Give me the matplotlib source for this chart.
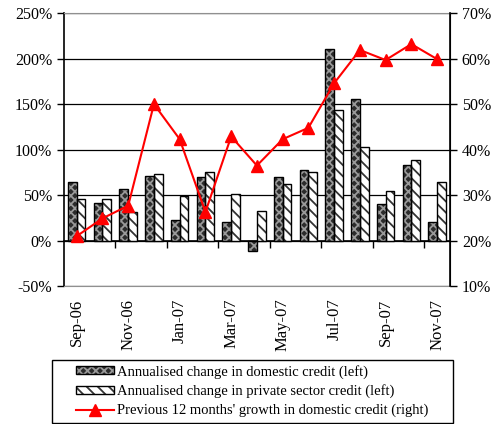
import numpy as np
import matplotlib
matplotlib.use('Agg')
import matplotlib.pyplot as plt
from matplotlib.patches import Patch, Rectangle
from matplotlib.lines import Line2D
from matplotlib.ticker import FuncFormatter

plt.rcParams['font.family'] = ['Liberation Serif', 'DejaVu Serif']
plt.rcParams['hatch.linewidth'] = 1.3

months = ['Sep-06', 'Oct-06', 'Nov-06', 'Dec-06', 'Jan-07', 'Feb-07', 'Mar-07', 'Apr-07',
          'May-07', 'Jun-07', 'Jul-07', 'Aug-07', 'Sep-07', 'Oct-07', 'Nov-07']
domestic = [65, 41, 57, 71, 23, 70, 21, -11, 70, 78, 211, 156, 40, 83, 21]
private = [46, 46, 31, 73, 49, 76, 51, 33, 62, 75, 144, 103, 55, 89, 64]
growth12 = [21, 24.9, 27.7, 50, 42.3, 26.3, 42.9, 36.5, 42.3, 44.8, 54.6, 61.9, 59.7, 63.2, 59.9]

lab_dom = 'Annualised change in domestic credit (left)'
lab_priv = 'Annualised change in private sector credit (left)'
lab_line = "Previous 12 months' growth in domestic credit (right)"

x = np.arange(len(months))
w = 0.34

fig = plt.figure(figsize=(4.95, 4.24), dpi=100)
ax = fig.add_axes([0.129, 0.325, 0.78, 0.644])

# bars: hatched fill first, black outline on top
ax.bar(x - w/2, domestic, w, facecolor='#2b2b2b', edgecolor='#9a9a9a', hatch='xxxx', linewidth=0, zorder=2)
ax.bar(x - w/2, domestic, w, fill=False, edgecolor='black', linewidth=1, zorder=3)
ax.bar(x + w/2, private, w, facecolor='white', edgecolor='#333333', hatch='\\\\\\', linewidth=0, zorder=2)
ax.bar(x + w/2, private, w, fill=False, edgecolor='black', linewidth=1, zorder=3)

ax.set_xlim(-0.5, len(months) - 0.5)
ax.set_ylim(-50, 250)
ax.set_yticks(np.arange(-50, 251, 50))
ax.yaxis.set_major_formatter(FuncFormatter(lambda v, p: '%d%%' % v))
ax.yaxis.grid(True, color='black', linewidth=0.9)
ax.set_axisbelow(True)
ax.tick_params(axis='y', direction='out', length=5, width=1, labelsize=11.5, color='black')

ax.set_xticks(x[::2])
ax.set_xticklabels(months[::2], rotation=90)
ax.tick_params(axis='x', length=0, labelsize=12, pad=9)

for s in ['top', 'bottom']:
    ax.spines[s].set_color('#909090')
ax.spines['left'].set_linewidth(1.2)

# category axis drawn at 0%
sec = ax.secondary_xaxis(50 / 300)
sec.set_xticks(x[1::2] + 0.5)
sec.set_xticklabels([])
sec.tick_params(direction='out', length=5, width=1)
sec.spines['bottom'].set_linewidth(1.2)

ax2 = ax.twinx()
ax2.plot(x, growth12, color='red', marker='^', markersize=8, linewidth=1.5, zorder=5)
ax2.set_ylim(10, 70)
ax2.set_yticks(np.arange(10, 71, 10))
ax2.yaxis.set_major_formatter(FuncFormatter(lambda v, p: '%d%%' % v))
ax2.tick_params(axis='y', direction='out', length=5, width=1, labelsize=11.5)
ax2.spines['right'].set_linewidth(1.2)
for s in ['top', 'bottom', 'left']:
    ax2.spines[s].set_visible(False)

h_dom = (Patch(facecolor='#2b2b2b', edgecolor='#9a9a9a', hatch='xxxx', linewidth=0),
         Patch(fill=False, edgecolor='black', linewidth=1))
h_priv = (Patch(facecolor='white', edgecolor='#333333', hatch='\\\\\\', linewidth=0),
          Patch(fill=False, edgecolor='black', linewidth=1))
h_line = Line2D([], [], color='red', marker='^', markersize=8, linewidth=1.5)

# legend box drawn separately so the entries can sit indented like the original
fig.patches.append(Rectangle((52 / 495, 1 / 424), 401 / 495, 63 / 424, transform=fig.transFigure,
                             fill=False, edgecolor='black', linewidth=1))
fig.legend([h_dom, h_priv, h_line], [lab_dom, lab_priv, lab_line],
           loc='center left', bbox_to_anchor=(76 / 495, 33 / 424),
           borderaxespad=0, borderpad=0, fontsize=10.5, frameon=False,
           handlelength=2.6, handleheight=0.45, handletextpad=0.2, labelspacing=0.38)

fig.savefig('out.png', dpi=100)
